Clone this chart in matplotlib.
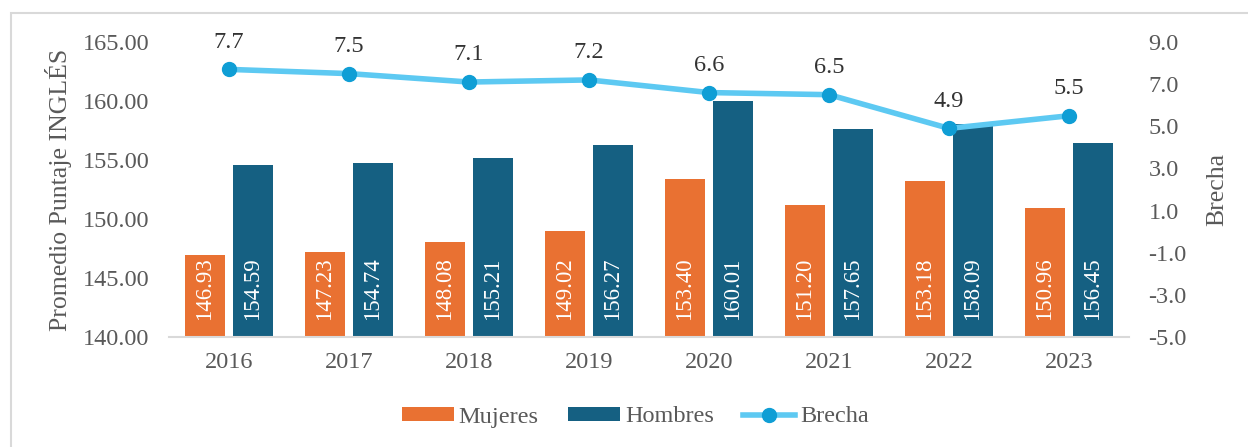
import matplotlib.pyplot as plt
import numpy as np
from matplotlib.patches import Rectangle

plt.rcParams['font.family'] = ['Liberation Serif', 'DejaVu Serif']

anios = ['2016', '2017', '2018', '2019', '2020', '2021', '2022', '2023']
mujeres = [146.93, 147.23, 148.08, 149.02, 153.40, 151.20, 153.18, 150.96]
hombres = [154.59, 154.74, 155.21, 156.27, 160.01, 157.65, 158.09, 156.45]
brecha = [7.7, 7.5, 7.1, 7.2, 6.6, 6.5, 4.9, 5.5]

c_muj = '#E97132'
c_hom = '#156082'
c_linea = '#5DC9F2'
c_punto = '#0F9ED5'
c_texto = '#595959'
tam = 17.5

fig = plt.figure(figsize=(12.48, 4.47), dpi=100)
fig.patches.append(Rectangle((11 / 1248, -0.1), 1.2, 1 - 13 / 447 + 0.1,
                             transform=fig.transFigure, fill=False,
                             edgecolor='#D9D9D9', linewidth=1.5))

ax = fig.add_axes([169 / 1248, 1 - 337 / 447, 960 / 1248, 295 / 447])
x = np.arange(len(anios))
ancho = 0.34
b1 = ax.bar(x - 0.2, mujeres, ancho, color=c_muj, label='Mujeres')
b2 = ax.bar(x + 0.2, hombres, ancho, color=c_hom, label='Hombres')

for xi, v in zip(x, mujeres):
    ax.text(xi - 0.2, 141.4, f'{v:.2f}', rotation=90, ha='center', va='bottom',
            color='white', fontsize=16.5)
for xi, v in zip(x, hombres):
    ax.text(xi + 0.2, 141.4, f'{v:.2f}', rotation=90, ha='center', va='bottom',
            color='white', fontsize=16.5)

ax.set_xlim(-0.5, len(anios) - 0.5)
ax.set_ylim(140, 165)
ax.set_yticks(np.arange(140, 166, 5))
ax.set_yticklabels([f'{t:.2f}' for t in np.arange(140, 166, 5)])
ax.set_xticks(x)
ax.set_xticklabels(anios)
ax.set_ylabel('Promedio Puntaje INGLÉS', fontsize=18.5, color=c_texto, labelpad=8)
ax.tick_params(axis='both', length=0, labelsize=tam, colors=c_texto)
ax.tick_params(axis='x', pad=11)
ax.tick_params(axis='y', pad=14)
for s in ['top', 'right', 'left']:
    ax.spines[s].set_visible(False)
ax.spines['bottom'].set_color('#D9D9D9')
ax.spines['bottom'].set_linewidth(1.5)

ax2 = ax.twinx()
l1, = ax2.plot(x, brecha, color=c_linea, linewidth=4, marker='o', markersize=10,
               markerfacecolor=c_punto, markeredgecolor=c_punto, label='Brecha')
for xi, v in zip(x, brecha):
    ax2.annotate(f'{v:.1f}', (xi, v), xytext=(0, 12), textcoords='offset points',
                 ha='center', va='bottom', fontsize=tam, color='#333333')
ax2.set_ylim(-5, 9)
ax2.set_yticks(np.arange(-5, 10, 2))
ax2.set_yticklabels([f'{t:.1f}' for t in np.arange(-5, 10, 2)])
ax2.set_ylabel('Brecha', fontsize=18.5, color=c_texto, labelpad=14)
ax2.tick_params(axis='y', length=0, labelsize=tam, colors=c_texto, pad=14)
for s in ax2.spines.values():
    s.set_visible(False)

fig.legend(handles=[b1, b2, l1], loc='center', bbox_to_anchor=(0.509, 1 - 417 / 447),
           ncol=3, frameon=False, fontsize=tam, labelcolor=c_texto,
           handlelength=2.15, handleheight=0.5, columnspacing=1.2, handletextpad=0.2)

fig.savefig('out.png', dpi=100)
